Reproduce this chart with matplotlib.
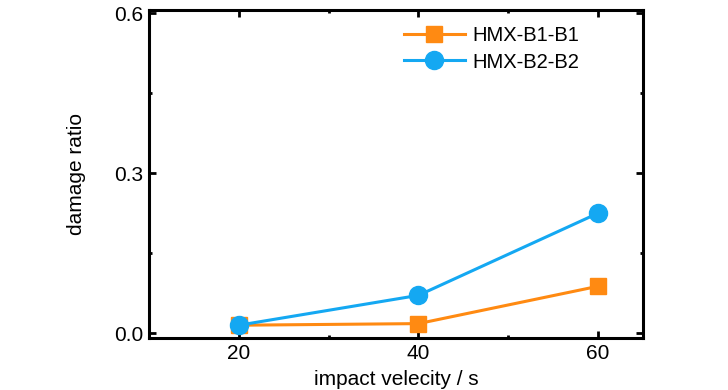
import matplotlib
matplotlib.use("Agg")
import matplotlib.pyplot as plt
from matplotlib.ticker import MultipleLocator

plt.rcParams['font.family'] = ['Liberation Sans Narrow', 'Liberation Sans', 'DejaVu Sans']

velocity = [20, 40, 60]
b1_ratio = [0.015, 0.018, 0.088]
b2_ratio = [0.015, 0.071, 0.225]
labels = ["HMX-B1-B1", "HMX-B2-B2"]

fig = plt.figure(figsize=(7.28, 3.9), dpi=100)
ax = fig.add_axes([0.2047, 0.1333, 0.6785, 0.8411])

ax.plot(velocity, b1_ratio, '-s', color='#FF8A12', lw=2.2, ms=11, label=labels[0])
ax.plot(velocity, b2_ratio, '-o', color='#14A8F2', lw=2.2, ms=13, label=labels[1])

ax.set_xlim(10, 65)
ax.set_ylim(-0.009, 0.606)
ax.set_xticks(velocity)
ax.set_yticks([0.0, 0.3, 0.6])
ax.set_yticklabels(["0.0", "0.3", "0.6"])
ax.xaxis.set_minor_locator(MultipleLocator(10))
ax.yaxis.set_minor_locator(MultipleLocator(0.15))
ax.tick_params(which='both', direction='in', top=True, right=True, labelsize=15, width=2)
ax.tick_params(which='major', length=5, pad=4)
ax.tick_params(which='minor', length=2.5)
for s in ax.spines.values():
    s.set_linewidth(2.2)

ax.set_xlabel("impact velecity / s", fontsize=15, labelpad=5)
ax.set_ylabel("damage ratio", fontsize=15, labelpad=20)

ax.legend(loc='upper left', bbox_to_anchor=(0.48, 1.005), frameon=False, fontsize=14.5,
          handlelength=3.0, handletextpad=0.4, labelspacing=0.35)

fig.savefig("out.png", dpi=100)
